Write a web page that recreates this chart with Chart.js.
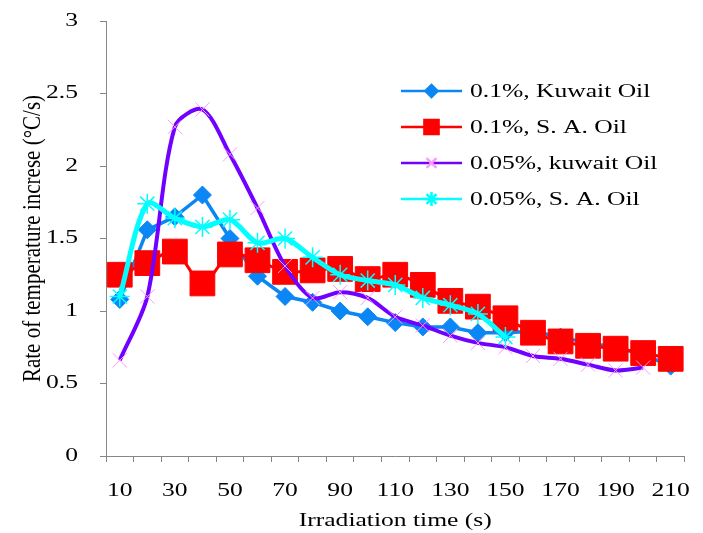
<!DOCTYPE html>
<html>
<head>
<meta charset="utf-8">
<script src="https://cdn.jsdelivr.net/npm/chart.js@4.4.1/dist/chart.umd.min.js"></script>
<style>
  html, body { margin: 0; padding: 0; background: #fff; }
</style>
</head>
<body>
<canvas id="rateChart" width="703" height="533"></canvas>
<script>
// irradiation time categories (s)
const times = [10, 20, 30, 40, 50, 60, 70, 80, 90, 100, 110, 120, 130, 140, 150, 160, 170, 180, 190, 200, 210];
const yTicks = [0, 0.5, 1, 1.5, 2, 2.5, 3];

const seriesNames = ["0.1%, Kuwait Oil", "0.1%, S. A. Oil", "0.05%, kuwait Oil", "0.05%, S. A. Oil"];

const kuwait01 = [1.08, 1.56, 1.65, 1.80, 1.50, 1.24, 1.10, 1.06, 1.00, 0.96, 0.92, 0.89, 0.89, 0.85, 0.85, 0.86, 0.82, 0.78, 0.75, 0.70, 0.62];
const saOil01 = [1.25, 1.33, 1.41, 1.19, 1.39, 1.35, 1.27, 1.28, 1.29, 1.22, 1.25, 1.18, 1.07, 1.03, 0.95, 0.85, 0.79, 0.76, 0.74, 0.71, 0.67];
const kuwait005 = [0.66, 1.10, 2.27, 2.39, 2.08, 1.71, 1.31, 1.09, 1.13, 1.09, 0.96, 0.90, 0.83, 0.78, 0.75, 0.69, 0.67, 0.63, 0.59, 0.61, null];
const saOil005 = [1.10, 1.74, 1.64, 1.58, 1.63, 1.47, 1.50, 1.37, 1.25, 1.21, 1.18, 1.09, 1.04, 0.98, 0.82, null, null, null, null, null, null];

const serif = '"Liberation Serif", "Times New Roman", serif';
const axisGray = "#868686";

// the original picture has its text stretched sideways, so widen every glyph
const wideText = {
  id: "wideText",
  beforeDraw(chart) {
    const ctx = chart.ctx;
    if (ctx._wide) return;
    const fill = ctx.fillText.bind(ctx);
    ctx.fillText = function (text, x, y) {
      const rotated = this.getTransform().b !== 0;
      this.save();
      this.translate(x, y);
      if (rotated) this.scale(1, 1.2);
      else this.scale(1.42, 1);
      fill(text, 0, 0);
      this.restore();
    };
    ctx._wide = true;
  }
};

// legend drawn as line + marker like the original
const lineLegend = {
  id: "lineLegend",
  afterDraw(chart) {
    const ctx = chart.ctx;
    const area = chart.chartArea;
    const x0 = area.left + 295, x1 = area.left + 356, tx = area.left + 364;
    const sorted = chart.data.datasets.slice().sort((a, b) => b.order - a.order);
    sorted.forEach((ds, i) => {
      const y = area.top + 70 + i * 36;
      ctx.save();
      ctx.strokeStyle = ds.borderColor;
      ctx.lineWidth = 2.5;
      ctx.beginPath();
      ctx.moveTo(x0, y);
      ctx.lineTo(x1, y);
      ctx.stroke();
      ctx.fillStyle = ds.pointBackgroundColor;
      ctx.strokeStyle = ds.pointBorderColor;
      Chart.helpers.drawPoint(ctx, {
        pointStyle: ds.pointStyle,
        radius: ds.legendRadius,
        rotation: 0,
        borderWidth: ds.pointBorderWidth
      }, (x0 + x1) / 2, y);
      ctx.fillStyle = "#000";
      ctx.font = "18px " + serif;
      ctx.textBaseline = "middle";
      ctx.textAlign = "left";
      ctx.fillText(ds.label, tx, y + 1);
      ctx.restore();
    });
  }
};

new Chart(document.getElementById("rateChart"), {
  type: "line",
  data: {
    labels: times,
    datasets: [
      {
        label: seriesNames[0],
        data: kuwait01,
        order: 4,
        borderColor: "#0a86f5",
        borderWidth: 3.5,
        tension: 0,
        pointStyle: "rectRot",
        pointRadius: 9,
        legendRadius: 6,
        pointBackgroundColor: "#0a86f5",
        pointBorderColor: "#0a86f5",
        pointBorderWidth: 1
      },
      {
        label: seriesNames[1],
        data: saOil01,
        order: 3,
        borderColor: "#ff0000",
        borderWidth: 3,
        tension: 0.3,
        pointStyle: "rect",
        pointRadius: 17.5,
        legendRadius: 10,
        pointBackgroundColor: "#ff0000",
        pointBorderColor: "#ff0000",
        pointBorderWidth: 1
      },
      {
        label: seriesNames[2],
        data: kuwait005,
        order: 2,
        borderColor: "#7000ff",
        borderWidth: 4,
        tension: 0.3,
        pointStyle: "crossRot",
        pointRadius: 10,
        legendRadius: 7,
        pointBackgroundColor: "#ff99ff",
        pointBorderColor: "#ff99ff",
        pointBorderWidth: 1
      },
      {
        label: seriesNames[3],
        data: saOil005,
        order: 1,
        borderColor: "#00ffff",
        borderWidth: 5,
        tension: 0.3,
        pointStyle: "star",
        pointRadius: 10,
        legendRadius: 7,
        pointBackgroundColor: "#00ffff",
        pointBorderColor: "#00ffff",
        pointBorderWidth: 1.5
      }
    ]
  },
  options: {
    responsive: false,
    animation: false,
    spanGaps: false,
    layout: { padding: { top: 21, right: 17, left: 0, bottom: 0 } },
    plugins: {
      legend: { display: false },
      tooltip: { enabled: false }
    },
    scales: {
      x: {
        type: "category",
        offset: true,
        grid: { offset: true, drawOnChartArea: false, tickLength: 6, color: axisGray },
        border: { color: axisGray },
        ticks: {
          autoSkip: false,
          maxRotation: 0,
          padding: 18,
          color: "#000",
          font: { family: serif, size: 18 },
          callback: (value, index) => (index % 2 === 0 ? String(times[index]) : "")
        },
        title: {
          display: true,
          text: "Irradiation time (s)",
          color: "#000",
          font: { family: serif, size: 18 },
          padding: { top: 0, bottom: 1 }
        },
        afterFit: (scale) => { scale.height = 77; }
      },
      y: {
        min: 0,
        max: 3,
        afterBuildTicks: (scale) => { scale.ticks = yTicks.map((v) => ({ value: v })); },
        grid: { drawOnChartArea: false, tickLength: 6, color: axisGray },
        border: { color: axisGray },
        ticks: {
          padding: 22,
          color: "#000",
          font: { family: serif, size: 18 },
          callback: (value) => String(value)
        },
        title: {
          display: true,
          text: "Rate of temperature increse (°C/s)",
          color: "#000",
          font: { family: serif, size: 21 },
          padding: { top: 21, bottom: 0 }
        },
        afterFit: (scale) => {
          scale.width = 106;
          scale.paddingTop = 0;
          scale.paddingBottom = 0;
        }
      }
    }
  },
  plugins: [wideText, lineLegend]
});
</script>
</body>
</html>
